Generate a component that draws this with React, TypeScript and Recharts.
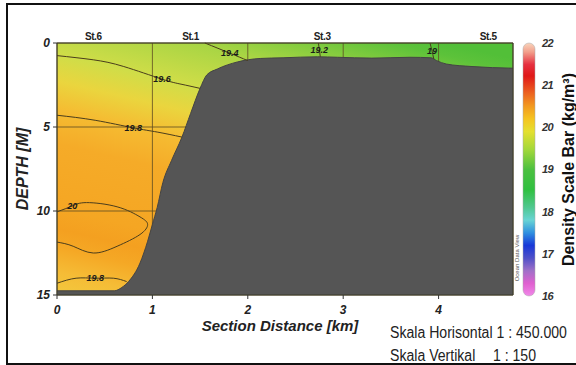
import {
  ComposedChart,
  Area,
  Line,
  XAxis,
  YAxis,
  CartesianGrid,
  ReferenceArea,
  LabelList,
  Label,
  BarChart,
  Bar,
} from "recharts";

// axes
const distanceTicks = [0, 1, 2, 3, 4];
const depthTicks = [0, 5, 10, 15];
const maxKm = 4.78;
const maxDepth = 15;

// stations along the top
const stationNames = ["St.6", "St.1", "St.3", "St.5"];
const stationKm = [0.38, 1.4, 2.78, 4.52];
const stations = stationNames.map((name, i) => ({ km: stationKm[i], depth: 0, name }));

// bottom profile (depth in m)
const seafloor = [
  { km: 0, depth: 14.75 },
  { km: 0.6, depth: 14.75 },
  { km: 0.68, depth: 14.55 },
  { km: 0.75, depth: 14.2 },
  { km: 0.87, depth: 13.1 },
  { km: 0.95, depth: 11.8 },
  { km: 1.0, depth: 10.8 },
  { km: 1.05, depth: 9.8 },
  { km: 1.11, depth: 8.3 },
  { km: 1.2, depth: 7.0 },
  { km: 1.31, depth: 5.6 },
  { km: 1.4, depth: 4.2 },
  { km: 1.5, depth: 2.7 },
  { km: 1.57, depth: 1.9 },
  { km: 1.68, depth: 1.55 },
  { km: 1.89, depth: 1.13 },
  { km: 2.13, depth: 0.92 },
  { km: 2.37, depth: 0.88 },
  { km: 2.73, depth: 0.82 },
  { km: 2.94, depth: 0.85 },
  { km: 3.3, depth: 0.9 },
  { km: 3.7, depth: 0.85 },
  { km: 3.92, depth: 0.88 },
  { km: 3.98, depth: 1.05 },
  { km: 4.08, depth: 1.25 },
  { km: 4.35, depth: 1.4 },
  { km: 4.78, depth: 1.5 },
];

// density contours (kg/m3)
const c194 = [
  { km: 1.55, depth: 0 },
  { km: 1.81, depth: 0.6, lab: "19.4" },
  { km: 2.0, depth: 1.05 },
];
const c196 = [
  { km: 0, depth: 0.75 },
  { km: 0.38, depth: 1.0 },
  { km: 0.7, depth: 1.4 },
  { km: 1.1, depth: 2.15, lab: "19.6" },
  { km: 1.3, depth: 2.45 },
  { km: 1.5, depth: 2.7 },
];
const c198top = [
  { km: 0, depth: 4.3 },
  { km: 0.4, depth: 4.6 },
  { km: 0.8, depth: 5.05, lab: "19.8" },
  { km: 1.05, depth: 5.3 },
  { km: 1.31, depth: 5.6 },
];
const c200 = [
  { km: 0, depth: 10.05 },
  { km: 0.16, depth: 9.7, lab: "20" },
  { km: 0.31, depth: 9.5 },
  { km: 0.63, depth: 9.75 },
  { km: 0.87, depth: 10.35 },
  { km: 0.95, depth: 10.8 },
  { km: 0.87, depth: 11.4 },
  { km: 0.63, depth: 12.1 },
  { km: 0.38, depth: 12.5 },
  { km: 0.17, depth: 12.1 },
  { km: 0, depth: 11.85 },
];
const c198bot = [
  { km: 0, depth: 14.3 },
  { km: 0.2, depth: 14.0 },
  { km: 0.4, depth: 14.0, lab: "19.8" },
  { km: 0.59, depth: 14.0 },
  { km: 0.73, depth: 14.2 },
];
const c192 = [
  { km: 2.74, depth: 0 },
  { km: 2.75, depth: 0.4, lab: "19.2" },
  { km: 2.76, depth: 0.82 },
];
const c190 = [
  { km: 3.91, depth: 0 },
  { km: 3.93, depth: 0.45, lab: "19" },
  { km: 3.95, depth: 0.95 },
];
const contours = [c194, c196, c198top, c200, c198bot, c192, c190];

// colour bar
const scaleTicks = [16, 17, 18, 19, 20, 21, 22];
const scaleBar = [{ name: "density", range: [16, 22] }];

const sans = "'Liberation Sans', Arial, sans-serif";

const fieldStops: [number, string][] = [
  [0, "#52bf38"],
  [0.035, "#5cc23a"],
  [0.103, "#84cc3e"],
  [0.171, "#a9d544"],
  [0.294, "#d0dd48"],
  [0.37, "#ead53e"],
  [0.45, "#f5bc32"],
  [0.55, "#f5ab28"],
  [0.735, "#f5a623"],
  [0.794, "#f4a020"],
  [0.847, "#f5a825"],
  [0.918, "#f5bc36"],
  [1, "#f2cc40"],
];

const barStops: [number, string][] = [
  [0, "#f8d4bc"],
  [0.035, "#f2a08c"],
  [0.085, "#e63040"],
  [0.13, "#e01818"],
  [0.2, "#ec6420"],
  [0.25, "#f29a20"],
  [0.3, "#f5c420"],
  [0.35, "#e4e030"],
  [0.42, "#a4d83a"],
  [0.5, "#4cc040"],
  [0.58, "#30c040"],
  [0.65, "#50c890"],
  [0.7, "#68d4d4"],
  [0.75, "#3090e0"],
  [0.8, "#1838d8"],
  [0.85, "#5050c8"],
  [0.9, "#a070c8"],
  [0.95, "#e060d0"],
  [1, "#f088e8"],
];

export default function App() {
  return (
    <div style={{ position: "relative", width: 576, height: 365, overflow: "hidden", background: "white" }}>
      <style>{`body{margin:0}`}</style>
      <div
        style={{
          position: "absolute",
          left: 6,
          top: 3,
          width: 600,
          height: 358,
          border: "2px solid #111",
        }}
      />
      <div style={{ position: "absolute", left: 0, top: 0 }}>
        <ComposedChart width={576} height={365} margin={{ top: 43, right: 63, left: 0, bottom: 0 }}>
          <defs>
            <linearGradient id="field" gradientUnits="userSpaceOnUse" x1={77} y1={-43} x2={0} y2={287}>
              {fieldStops.map(([o, c]) => (
                <stop key={o} offset={o} stopColor={c} />
              ))}
            </linearGradient>
          </defs>
          <CartesianGrid fill="url(#field)" fillOpacity={1} stroke="#5e4c22" strokeOpacity={0.8} />
          <XAxis
            type="number"
            dataKey="km"
            domain={[0, maxKm]}
            ticks={distanceTicks}
            height={70}
            axisLine={false}
            tickSize={4}
            tickMargin={6}
            stroke="#333"
            tick={{ fontSize: 12, fontWeight: 700, fontStyle: "italic", fill: "#222", fontFamily: sans }}
          >
            <Label
              value="Section Distance [km]"
              position="insideTop"
              offset={25}
              dx={-5}
              style={{ fontSize: 15, fontWeight: 700, fontStyle: "italic", fill: "#222", fontFamily: sans }}
            />
          </XAxis>
          <YAxis
            type="number"
            dataKey="depth"
            domain={[0, maxDepth]}
            ticks={depthTicks}
            reversed
            width={57}
            axisLine={false}
            tickSize={4}
            tickMargin={3}
            stroke="#333"
            tick={{ fontSize: 12, fontWeight: 700, fontStyle: "italic", fill: "#222", fontFamily: sans }}
          >
            <Label
              value="DEPTH [M]"
              position="center"
              angle={-90}
              dx={-6}
              style={{ fontSize: 16, fontWeight: 700, fontStyle: "italic", fill: "#222", fontFamily: sans }}
            />
          </YAxis>
          {contours.map((c, i) => (
            <Line
              key={i}
              data={c}
              dataKey="depth"
              type="natural"
              stroke="#4a3d1c"
              strokeWidth={1}
              dot={false}
              activeDot={false}
              isAnimationActive={false}
            >
              <LabelList
                dataKey="lab"
                position="center"
                style={{ fontSize: 9, fontWeight: 700, fontStyle: "italic", fill: "#1a1a1a", fontFamily: sans }}
              />
            </Line>
          ))}
          <Area
            data={seafloor}
            dataKey="depth"
            type="monotone"
            baseValue={maxDepth}
            fill="#555555"
            fillOpacity={1}
            stroke="#444"
            strokeWidth={1}
            isAnimationActive={false}
          />
          <ReferenceArea x1={0} x2={maxKm} y1={0} y2={maxDepth} fill="none" stroke="#3a3a28" strokeWidth={1} />
          <Line
            data={stations}
            dataKey="depth"
            stroke="none"
            dot={false}
            activeDot={false}
            isAnimationActive={false}
          >
            <LabelList
              dataKey="name"
              position="top"
              offset={3}
              style={{ fontSize: 10, fontWeight: 700, fill: "#222", fontFamily: sans, letterSpacing: -0.4 }}
            />
          </Line>
        </ComposedChart>
      </div>

      <div style={{ position: "absolute", left: 505, top: 30 }}>
        <BarChart width={71} height={280} data={scaleBar} margin={{ top: 13, right: 0, left: 13, bottom: 14 }}>
          <defs>
            <linearGradient id="cbar" x1="0" y1="0" x2="0" y2="1">
              {barStops.map(([o, c]) => (
                <stop key={o} offset={o} stopColor={c} />
              ))}
            </linearGradient>
          </defs>
          <XAxis dataKey="name" hide />
          <YAxis
            orientation="right"
            type="number"
            domain={[16, 22]}
            ticks={scaleTicks}
            width={36}
            axisLine={false}
            tickLine={false}
            tickSize={0}
            tickMargin={2}
            tick={{ fontSize: 11, fontWeight: 700, fontStyle: "italic", fill: "#333", fontFamily: sans, letterSpacing: -0.5 }}
          >
            <Label
              value="Density Scale Bar (kg/m³)"
              position="center"
              angle={-90}
              dx={10}
              style={{ fontSize: 16, fontWeight: 700, fill: "#111", fontFamily: sans }}
            />
          </YAxis>
          <Bar
            dataKey="range"
            barSize={12}
            radius={6}
            fill="url(#cbar)"
            stroke="#aaa"
            strokeWidth={0.5}
            isAnimationActive={false}
          />
        </BarChart>
      </div>

      <svg style={{ position: "absolute", left: 512, top: 220 }} width={10} height={75}>
        <text
          transform="translate(7,38) rotate(-90)"
          textAnchor="middle"
          style={{ fontSize: 6, fill: "#555", fontFamily: sans }}
        >
          Ocean Data View
        </text>
      </svg>

      <div
        style={{
          position: "absolute",
          left: 390,
          top: 321,
          fontFamily: sans,
          fontSize: 16,
          color: "#222",
          lineHeight: "23px",
          whiteSpace: "pre",
          transform: "scaleX(0.88)",
          transformOrigin: "0 0",
        }}
      >
        <div>Skala Horisontal 1 : 450.000</div>
        <div style={{ position: "relative" }}>
          Skala Vertikal<span style={{ position: "absolute", left: 117 }}>1 : 150</span>
        </div>
      </div>
    </div>
  );
}
